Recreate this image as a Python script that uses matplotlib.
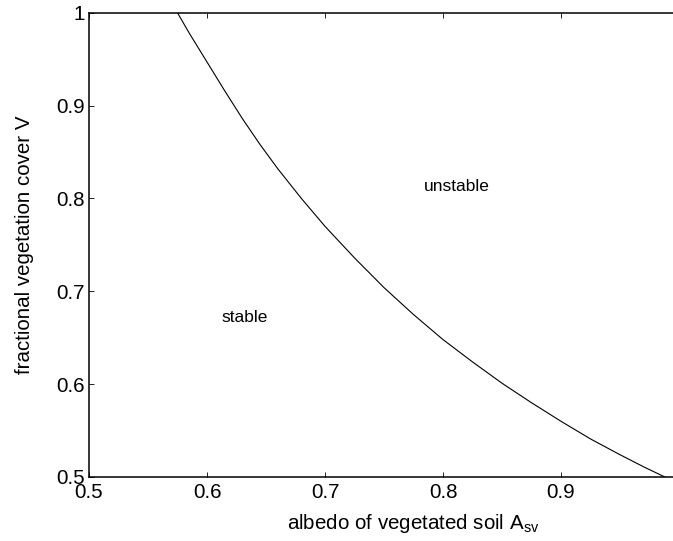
import numpy as np
import matplotlib
matplotlib.use('Agg')
import matplotlib.pyplot as plt

# boundary between stable and unstable region
albedo = [0.575, 0.585, 0.60, 0.615, 0.63, 0.645, 0.66, 0.68, 0.70, 0.725, 0.75,
          0.775, 0.80, 0.825, 0.85, 0.875, 0.90, 0.925, 0.95, 0.97, 0.988]
cover = [1.000, 0.978, 0.947, 0.916, 0.886, 0.858, 0.832, 0.800, 0.770, 0.736, 0.704,
         0.675, 0.648, 0.624, 0.601, 0.580, 0.560, 0.541, 0.524, 0.511, 0.500]

x_ticks = [0.5, 0.6, 0.7, 0.8, 0.9, 1.0]
x_ticklabels = ['0.5', '0.6', '0.7', '0.8', '0.9', '1']
y_ticks = [0.5, 0.6, 0.7, 0.8, 0.9, 1.0]
y_ticklabels = ['0.5', '0.6', '0.7', '0.8', '0.9', '1']

plt.rcParams['font.family'] = ['Liberation Sans', 'DejaVu Sans']
plt.rcParams['mathtext.fontset'] = 'custom'
plt.rcParams['mathtext.rm'] = 'Liberation Sans'
plt.rcParams['mathtext.it'] = 'Liberation Sans'

W, H = 673, 541
fig = plt.figure(figsize=(W / 100, H / 100), dpi=100)
# right edge of the axes lies just outside the picture, as in the original
left, right, top, bottom = 89, 679, 12.8, 477
ax = fig.add_axes([left / W, 1 - bottom / H, (right - left) / W, (bottom - top) / H])

ax.plot(albedo, cover, color='black', linewidth=0.8)

ax.set_xlim(0.5, 1.0)
ax.set_ylim(0.5, 1.0)
ax.set_xticks(x_ticks)
ax.set_xticklabels(x_ticklabels)
ax.set_yticks(y_ticks)
ax.set_yticklabels(y_ticklabels)
ax.tick_params(direction='in', length=3.6, width=0.6, labelsize=14.8,
               top=True, right=True)
ax.tick_params(axis='x', pad=4.0)
ax.tick_params(axis='y', pad=3.2)
for s in ax.spines.values():
    s.set_linewidth(1.1)

ax.set_xlabel(r'albedo of vegetated soil A$_{\rm sv}$', fontsize=14.8)
ax.xaxis.set_label_coords((413 - left) / (right - left), -0.075)
ax.set_ylabel('fractional vegetation cover V', fontsize=14.8)
ax.yaxis.set_label_coords(-0.093, 0.5)

ax.text(0.812, 0.813, 'unstable', fontsize=12.5, ha='center', va='center')
ax.text(0.632, 0.672, 'stable', fontsize=12.5, ha='center', va='center')

fig.savefig('out.png', dpi=100)
